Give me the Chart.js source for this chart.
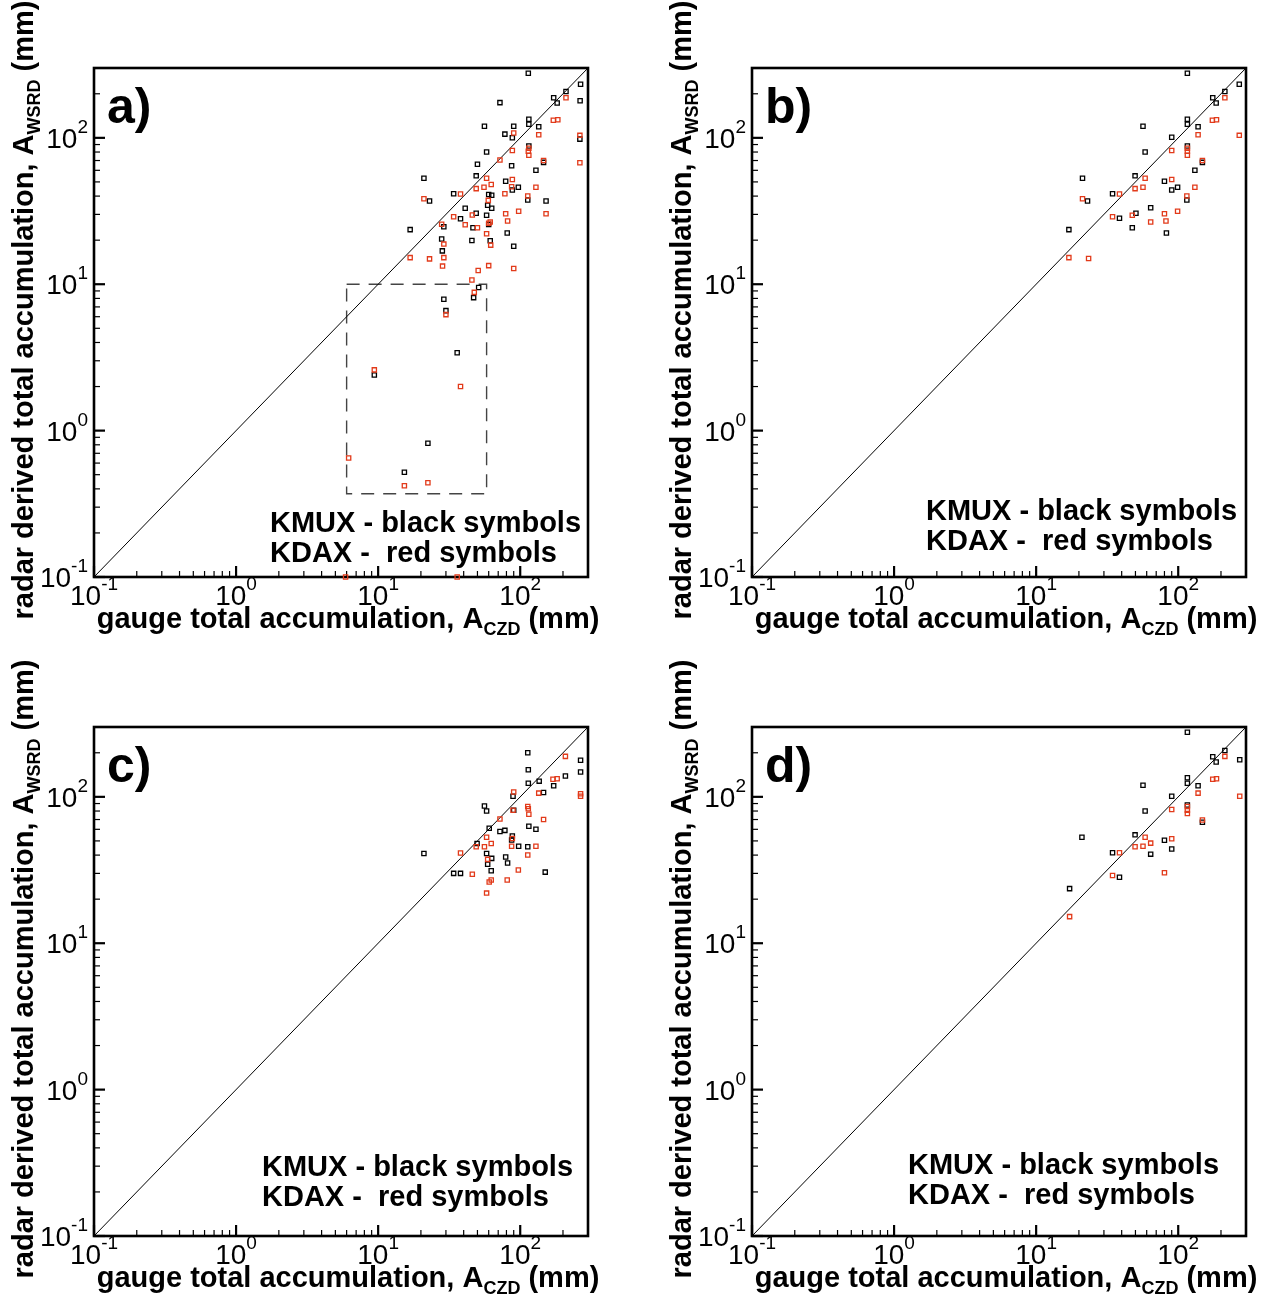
<!DOCTYPE html>
<html>
<head>
<meta charset="utf-8">
<script src="https://cdn.jsdelivr.net/npm/chart.js@4/dist/chart.umd.min.js"></script>
<style>
  html, body { margin: 0; padding: 0; background: #fff; }
  body { width: 1267px; height: 1298px; position: relative; overflow: hidden; }
  canvas { position: absolute; }
</style>
</head>
<body>
<canvas id="pa" width="609" height="639" style="left:0px;top:0px"></canvas>
<canvas id="pb" width="609" height="639" style="left:658px;top:0px"></canvas>
<canvas id="pc" width="609" height="639" style="left:0px;top:659px"></canvas>
<canvas id="pd" width="609" height="639" style="left:658px;top:659px"></canvas>
<script>
// ---------- DATA (gauge A_CZD, radar A_WSRD) in mm ----------
const aKMUX = [[114,276],[266,232],[210,207],[172,188],[182,173],[264,179],[72,174],[115,134],[115,124],[135,119],[56,120],[90,120],[78,106],[88,100],[263,98],[115,88],[58,80],[146,68],[50,66],[87,64.5],[129,60],[21,53],[49,55],[79,50.5],[97,46],[88,44],[23,37],[34,41.5],[60,41],[63,40.5],[113,37.6],[152,37],[59,34.6],[63,33],[41,33],[49,30.5],[58,29.6],[38,28],[46.5,24.3],[60,25.6],[29,24.7],[16.8,23.6],[81,22.4],[28,20.4],[45.7,19.9],[61.5,19.8],[90,18.2],[28.3,16.9],[51,9.5],[47,8.1],[29,7.9],[30,6.6],[36,3.4],[9.4,2.4],[22.4,0.82],[15.3,0.52]];
const aKDAX = [[210,188],[171,132],[184,133],[90,108],[135,105],[263,104],[88,82],[115,85],[114,81],[115,76],[72,70.5],[146,70],[263,67.6],[58,53],[88,52],[62.5,48],[49,45],[55.6,46],[87,46.4],[129,46],[21,38.4],[38,41.3],[78,41.5],[113,40],[59.6,37.4],[46,29.7],[34,28.9],[79,30.3],[97.5,31.5],[152,30.3],[41,25.5],[28,25.7],[50,24.3],[61.5,26.6],[60,26.1],[81.5,27],[58,22.1],[29,18.8],[62,18.5],[16.8,15.2],[23,14.9],[29,15.2],[28.4,13.3],[50.6,12.4],[60,13.4],[90,12.8],[45.7,10.7],[47.5,8.8],[30,6.2],[9.4,2.6],[38,2.0],[6.2,0.65],[15.3,0.42],[22.4,0.44],[5.9,0.1],[36,0.1]];
const aBox = [[6,10],[58,10],[58,0.37],[6,0.37],[6,10]];

const bKMUX = [[116,276],[269,232],[213,207],[175,188],[185,173],[116,134],[116,124],[138,119],[56.5,120],[90,101],[58.5,80],[116,88],[148,68],[131,60],[21.2,53],[49.7,55],[80,50.5],[99,46],[90,44],[23,37],[34.5,41.5],[115,37.6],[64,33.3],[50.4,30.5],[38.6,28.2],[47.5,24.3],[17,23.6],[82.6,22.4]];
const bKDAX = [[213,188],[174,132],[186,133],[138,105],[269,104],[90,82],[116,85],[116,81],[116,76],[148,70],[58.5,53],[90,52],[49.7,45],[56.5,46],[131,46],[21.2,38.4],[38.6,41.3],[115,40],[34.5,28.9],[47.5,29.6],[80,30.3],[99,31.5],[64,26.6],[82,27],[17,15.2],[23.4,15]];

const cKMUX = [[113,200],[266,178],[266,148],[114,153],[208,139],[136,128],[114,124],[172,119],[146,107],[89,101],[56,86.5],[58,80],[90,81],[60.5,61],[72,58],[78,59],[115,63],[129,60],[88,54],[87,50.7],[49.7,48],[97.5,46],[113,45.6],[58,41],[63,38],[59,34.6],[79,38.8],[81.5,35.3],[62.5,31.3],[21,41],[34,30],[38,30],[150,30.6]];
const cKDAX = [[208,189],[170,132],[182,133],[90,108],[135,106],[266,105],[266,101],[113,86],[114,83],[115,76],[89,81],[146,70],[72,70.5],[58,53],[88,52],[62.5,48],[49,45.6],[56,45.6],[87,46],[129,46],[38,41.3],[113,40],[59,37.4],[46,29.6],[62.5,27],[60.5,26.2],[81,27],[97,31.6],[58,22]];

const dKMUX = [[116,276],[271,179],[213,207],[175,188],[185,173],[116,135],[116,124],[138,119],[56.5,120],[90,101],[58.5,80],[116,88],[148,67],[21,53],[49.7,55],[80,50.5],[90,44],[34.5,41.5],[38.6,28.2],[64,40.6],[17.2,23.6]];
const dKDAX = [[213,189],[175,132],[186,133],[138,106],[271,101],[90,82],[116,86],[116,81],[116,77],[148,69.5],[58.5,53],[90,51.8],[49.7,45.6],[56.5,46],[64,48.3],[38.6,41.5],[34.5,29],[80,30.3],[17.2,15.2]];

const oneToOne = [[0.1,0.1],[300,300]];
const axisMin = 0.1, axisMax = 300;
const majorTicks = [0.1, 1, 10, 100];
const majorExponents = ['-1', '0', '1', '2'];
const legendLines = ['KMUX - black symbols', 'KDAX -  red symbols'];
const xTitle = ['gauge total accumulation, A', 'CZD', ' (mm)'];
const yTitle = ['radar derived total accumulation, A', 'WSRD', ' (mm)'];

// ---------- rendering ----------
const FONT = '"Liberation Sans", Arial, Helvetica, sans-serif';
const RED = '#e23a1a';
const toXY = arr => arr.map(p => ({x: p[0], y: p[1]}));

function drawRich(ctx, parts, x, y, align) {
  let total = 0;
  parts.forEach(p => { ctx.font = p.font; p.w = ctx.measureText(p.t).width; total += p.w; });
  let cx = align === 'center' ? x - total / 2 : (align === 'right' ? x - total : x);
  ctx.textAlign = 'left';
  ctx.textBaseline = 'alphabetic';
  parts.forEach(p => { ctx.font = p.font; ctx.fillText(p.t, cx, y + (p.dy || 0)); cx += p.w; });
}

function makeChart(id, letter, kmux, kdax, legendPos, box) {
  const datasets = [
    { type: 'line', data: toXY(oneToOne), borderColor: '#000', borderWidth: 1, pointRadius: 0, order: 3 }
  ];
  if (box) datasets.push({ type: 'line', data: toXY(box), borderColor: '#444', borderWidth: 1.4,
    borderDash: [13, 9], pointRadius: 0, order: 3 });
  datasets.push({ type: 'scatter', data: toXY(kmux), pointStyle: 'rect', pointRadius: 3,
    borderColor: '#000', borderWidth: 1.3, backgroundColor: 'rgba(0,0,0,0)', clip: false, order: 2 });
  datasets.push({ type: 'scatter', data: toXY(kdax), pointStyle: 'rect', pointRadius: 3,
    borderColor: RED, borderWidth: 1.3, backgroundColor: 'rgba(0,0,0,0)', clip: false, order: 1 });

  const framePlugin = {
    id: 'frame',
    beforeDatasetsDraw(chart) {
      const {ctx, chartArea: a, scales: {x, y}} = chart;
      ctx.save();
      ctx.strokeStyle = '#000';
      for (let k = -1; k <= 2; k++) {
        for (let m = 1; m <= 9; m++) {
          const v = m * Math.pow(10, k);
          if (v > axisMax + 1e-9) continue;
          const major = m === 1;
          const len = major ? 11 : 6;
          ctx.lineWidth = major ? 2.2 : 1.2;
          const px = x.getPixelForValue(v), py = y.getPixelForValue(v);
          ctx.beginPath(); ctx.moveTo(px, a.bottom); ctx.lineTo(px, a.bottom - len); ctx.stroke();
          ctx.beginPath(); ctx.moveTo(a.left, py); ctx.lineTo(a.left + len, py); ctx.stroke();
        }
      }
      ctx.lineWidth = 2.6;
      ctx.strokeRect(a.left, a.top, a.right - a.left, a.bottom - a.top);
      ctx.restore();
    },
    afterDraw(chart) {
      const {ctx, chartArea: a, scales: {x, y}} = chart;
      ctx.save();
      ctx.fillStyle = '#000';
      const big = '28px ' + FONT, sup = '19px ' + FONT;
      majorTicks.forEach((v, i) => {
        const px = x.getPixelForValue(v), py = y.getPixelForValue(v);
        drawRich(ctx, [{t: '10', font: big}, {t: majorExponents[i], font: sup, dy: -15}], px, a.bottom + 28, 'center');
        drawRich(ctx, [{t: '10', font: big}, {t: majorExponents[i], font: sup, dy: -15}], a.left - 6, py + 10, 'right');
      });
      const tb = 'bold 29px ' + FONT, ts = 'bold 18px ' + FONT;
      drawRich(ctx, [{t: xTitle[0], font: tb}, {t: xTitle[1], font: ts, dy: 7}, {t: xTitle[2], font: tb}],
        (a.left + a.right) / 2 + 7, a.bottom + 51, 'center');
      ctx.save();
      ctx.translate(33, 310);
      ctx.rotate(-Math.PI / 2);
      drawRich(ctx, [{t: yTitle[0], font: tb}, {t: yTitle[1], font: ts, dy: 7}, {t: yTitle[2], font: tb}], 0, 0, 'center');
      ctx.restore();
      ctx.font = 'bold 50px ' + FONT;
      ctx.textAlign = 'left';
      ctx.fillText(letter, a.left + 13, a.top + 55);
      ctx.font = 'bold 29px ' + FONT;
      legendLines.forEach((t, i) => ctx.fillText(t, legendPos[0], legendPos[1] + i * 30));
      ctx.restore();
    }
  };

  return new Chart(document.getElementById(id), {
    data: { datasets },
    options: {
      responsive: false, animation: false, devicePixelRatio: 1, events: [],
      layout: { padding: { left: 94, top: 68, right: 21, bottom: 62 } },
      plugins: { legend: { display: false }, tooltip: { enabled: false } },
      scales: {
        x: { type: 'logarithmic', min: axisMin, max: axisMax, display: false },
        y: { type: 'logarithmic', min: axisMin, max: axisMax, display: false }
      }
    },
    plugins: [framePlugin]
  });
}

makeChart('pa', 'a)', aKMUX, aKDAX, [270, 532], aBox);
makeChart('pb', 'b)', bKMUX, bKDAX, [268, 520], null);
makeChart('pc', 'c)', cKMUX, cKDAX, [262, 517], null);
makeChart('pd', 'd)', dKMUX, dKDAX, [250, 515], null);
</script>
</body>
</html>
